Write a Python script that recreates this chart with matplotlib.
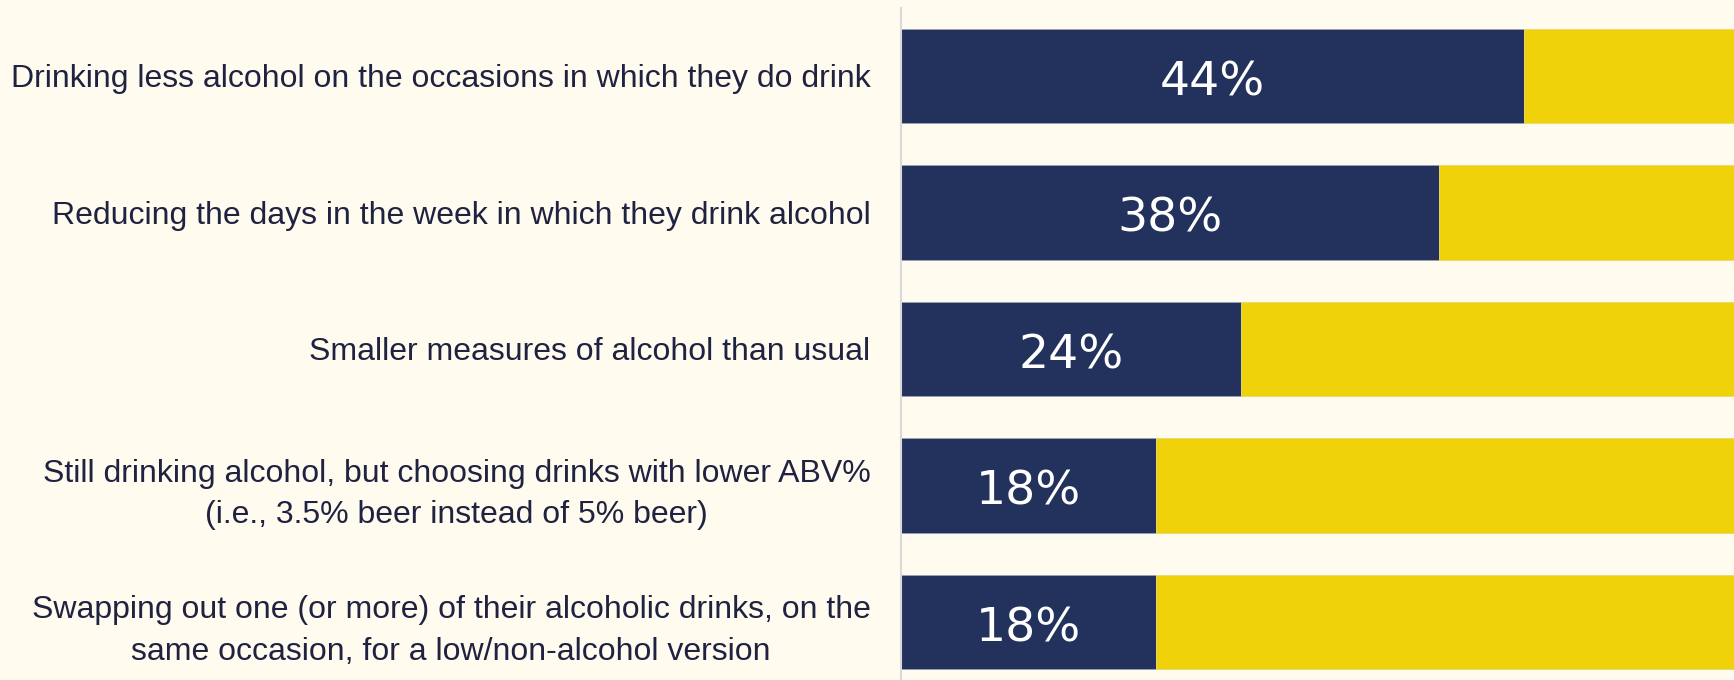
import matplotlib
matplotlib.use("Agg")
import matplotlib.pyplot as plt
import matplotlib.transforms as mtransforms
import numpy as np

plt.rcParams['font.family'] = ['Liberation Sans', 'DejaVu Sans']

labels = [
    "Drinking less alcohol on the occasions in which they do drink",
    "Reducing the days in the week in which they drink alcohol",
    "Smaller measures of alcohol than usual",
    "Still drinking alcohol, but choosing drinks with lower ABV%\n(i.e., 3.5% beer instead of 5% beer)",
    "Swapping out one (or more) of their alcoholic drinks, on the\nsame occasion, for a low/non-alcohol version",
]
values = [44, 38, 24, 18, 18]
rest = [100 - v for v in values]

navy = '#22325C'
yellow = '#F0D20A'
bg = '#FFFBEF'
text_col = '#1F2240'

fig = plt.figure(figsize=(17.34, 6.8), dpi=100, facecolor=bg)
ax = fig.add_axes([901 / 1734, 0, 1 - 901 / 1734, 1 - 8 / 680])
ax.set_facecolor(bg)

y = np.arange(len(labels))
ax.barh(y, values, height=0.69, color=navy, edgecolor='#9AA0B4', linewidth=0.6)
ax.barh(y, rest, left=values, height=0.69, color=yellow, edgecolor='#E8D870', linewidth=0.6)

# value labels, nudged down a bit so the digits sit in the middle of the bar
for yi, v in zip(y, values):
    ax.text(v / 2, yi + 0.05, f"{v}%", color='white', fontsize=34,
            ha='center', va='center', family=['DejaVu Sans'])

ax.set_xlim(0, 833 / 14.16)
ax.set_ylim(4.425, -0.498)
ax.set_yticks(y)
ax.set_yticklabels(labels, fontsize=23, color=text_col)
shift = mtransforms.ScaledTranslation(0, -3 / 72, fig.dpi_scale_trans)
for t in ax.get_yticklabels():
    t.set_multialignment('center')
    t.set_linespacing(1.5)
    t.set_transform(t.get_transform() + shift)
ax.tick_params(axis='y', length=0, pad=22)
ax.set_xticks([])
for s in ['top', 'right', 'bottom']:
    ax.spines[s].set_visible(False)
ax.spines['left'].set_color('#D9D9D9')
ax.spines['left'].set_linewidth(1.5)

fig.savefig('out.png', dpi=100, facecolor=bg)
